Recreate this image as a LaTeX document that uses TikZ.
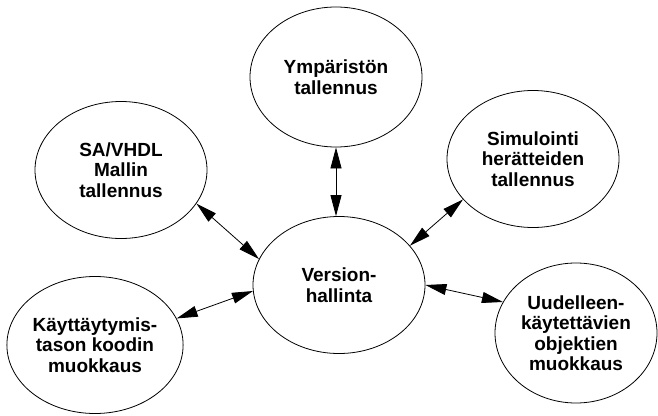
\documentclass[tikz,border=0pt]{standalone}
\usepackage{fontspec}
\setmainfont{Liberation Sans}
\usetikzlibrary{arrows.meta,shapes.geometric}
\begin{document}
\begin{tikzpicture}[x=1pt,y=-1pt,
  topic/.style={ellipse,draw,line width=0.8pt,minimum width=172pt,minimum height=137pt,
    inner sep=0pt,align=center,font=\fontsize{19}{20.5}\selectfont\bfseries},
  tip/.tip={Triangle[length=21pt,width=11pt]},
  link/.style={line width=0.8pt,tip-tip}]
\useasboundingbox (0,0) rectangle (658,415);
% version control hub and the surrounding activities
\node[topic] (ver) at (339,285) {Version-\\hallinta};
\node[topic,minimum height=140pt] (env) at (336,77) {Ympäristön\\tallennus};
\node[topic] (sa) at (121,170) {SA/VHDL\\Mallin\\tallennus};
\node[topic] (sim) at (533,159) {Simulointi\\herätteiden\\tallennus};
\node[topic] (beh) at (95,345) {Käyttäytymis-\\tason koodin\\muokkaus};
\node[topic,minimum width=162pt,minimum height=140pt] (reuse) at (576,333) {Uudelleen-\\käytettävien\\objektien\\muokkaus};
% two-way links to the hub
\draw[link] (env.south) -- (env.south |- ver.north);
\draw[link] (sa.-24) -- (ver.162);
\draw[link] (beh.18) -- (ver.184);
\draw[link] (sim.210) -- (ver.29);
\draw[link] (ver.0) -- (reuse.157);
\end{tikzpicture}
\end{document}
